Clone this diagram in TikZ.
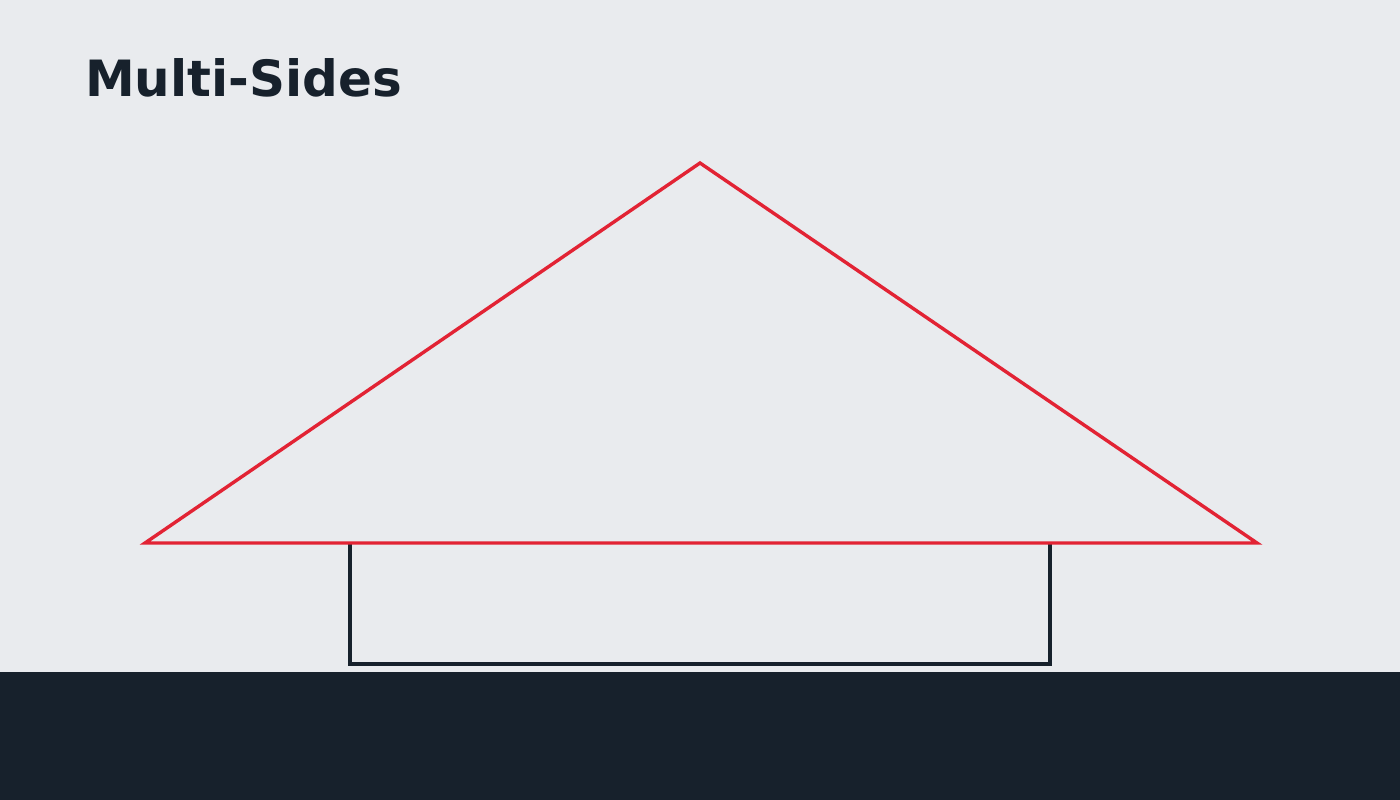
\documentclass[tikz,border=0pt]{standalone}
\usepackage{fontspec}
\setmainfont{DejaVu Sans}
\definecolor{bg}{HTML}{E9EBEE}
\definecolor{ink}{HTML}{17212C}
\definecolor{roof}{HTML}{E22334}
\begin{document}
\begin{tikzpicture}[x=1pt,y=-1pt,
  wall/.style={draw=ink,line width=3.2pt},
  roofline/.style={draw=roof,line width=3.4pt,line join=miter}]
\fill[bg] (0,0) rectangle (1400,800);
\useasboundingbox (0,0) rectangle (1400,800);
\fill[ink] (0,672) rectangle (1400,800);
\node[anchor=base west,inner sep=0pt,text=ink,font=\bfseries\fontsize{50}{60}\selectfont] (title) at (85,96.5) {Multi-Sides};
\coordinate (a) at (700,163);
\coordinate (bl) at (145,543);
\coordinate (br) at (1257,543);
\coordinate (rtl) at (350,543);
\coordinate (rbl) at (350,664);
\coordinate (rbr) at (1050,664);
\coordinate (rtr) at (1050,543);
\draw[wall] (rtl) -- (rbl) -- (rbr) -- (rtr);
\draw[roofline] (a) -- (br) -- (bl) -- cycle;
\end{tikzpicture}
\end{document}
